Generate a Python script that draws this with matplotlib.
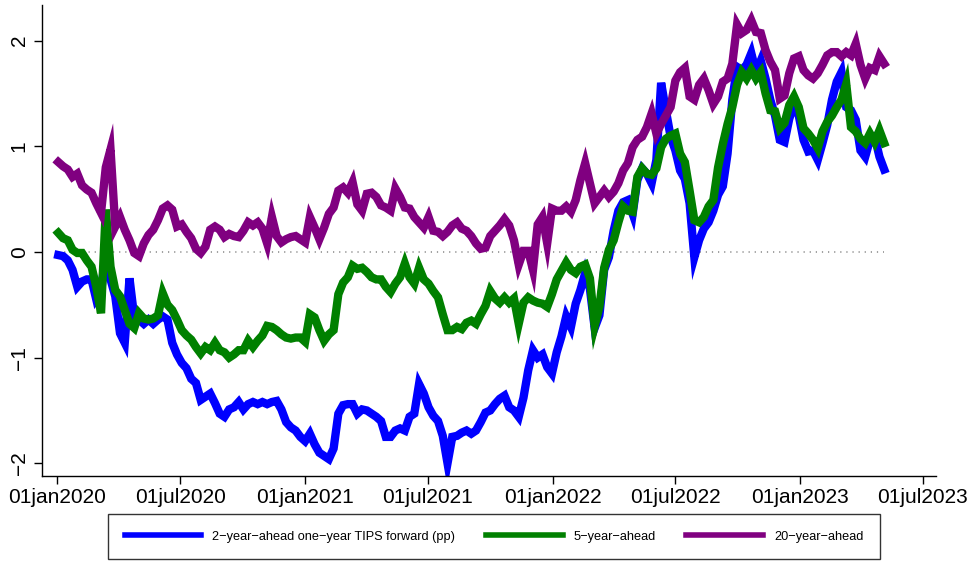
import matplotlib
matplotlib.use("Agg")
import matplotlib.pyplot as plt
import pandas as pd

plt.rcParams['font.family'] = ['Liberation Sans', 'DejaVu Sans']

# weekly observations (Fridays), Jan 2020 - May 2023
tanggal = pd.date_range('2020-01-03', periods=175, freq='7D')

# 2-year-ahead one-year TIPS forward (pp)
fwd2 = [-0.03, -0.04, -0.08, -0.17, -0.33, -0.28, -0.26, -0.26, -0.45, -0.39,
        0.02, -0.26, -0.42, -0.77, -0.86, -0.25, -0.62, -0.64, -0.68, -0.64,
        -0.68, -0.64, -0.61, -0.64, -0.86, -0.97, -1.05, -1.10, -1.20, -1.24,
        -1.40, -1.37, -1.34, -1.43, -1.53, -1.56, -1.49, -1.47, -1.42, -1.49,
        -1.44, -1.42, -1.44, -1.42, -1.44, -1.42, -1.41, -1.49, -1.61, -1.66,
        -1.69, -1.75, -1.79, -1.72, -1.82, -1.90, -1.93, -1.96, -1.86, -1.53,
        -1.45, -1.44, -1.44, -1.53, -1.49, -1.50, -1.53, -1.56, -1.60, -1.75,
        -1.75, -1.69, -1.67, -1.69, -1.56, -1.53, -1.25, -1.34, -1.47, -1.55,
        -1.60, -1.74, -2.00, -1.75, -1.74, -1.71, -1.69, -1.72, -1.69, -1.61,
        -1.52, -1.50, -1.44, -1.39, -1.36, -1.47, -1.50, -1.56, -1.38, -1.12,
        -0.93, -1.00, -0.97, -1.09, -1.15, -0.95, -0.80, -0.61, -0.71, -0.49,
        -0.36, -0.20, -0.35, -0.72, -0.60, -0.17, -0.05, 0.20, 0.39, 0.47,
        0.49, 0.36, 0.68, 0.79, 0.74, 0.65, 0.87, 1.60, 1.34, 1.09,
        0.96, 0.77, 0.69, 0.46, -0.05, 0.11, 0.22, 0.28, 0.39, 0.54,
        0.62, 0.93, 1.44, 1.75, 1.72, 1.77, 1.88, 1.70, 1.81, 1.64,
        1.44, 1.29, 1.06, 1.04, 1.26, 1.39, 1.29, 1.06, 0.95, 0.96,
        0.87, 1.03, 1.20, 1.44, 1.61, 1.70, 1.37, 1.34, 1.25, 0.96,
        0.90, 1.06, 1.09, 0.90, 0.78]

# 5-year-ahead
fwd5 = [0.18, 0.13, 0.11, 0.02, -0.01, -0.01, -0.08, -0.14, -0.33, -0.58,
        0.40, -0.14, -0.36, -0.42, -0.55, -0.68, -0.72, -0.58, -0.63, -0.64,
        -0.63, -0.60, -0.39, -0.50, -0.55, -0.64, -0.74, -0.79, -0.83, -0.90,
        -0.96, -0.90, -0.93, -0.86, -0.93, -0.95, -1.00, -0.97, -0.93, -0.93,
        -0.84, -0.90, -0.84, -0.79, -0.70, -0.71, -0.74, -0.78, -0.81, -0.82,
        -0.81, -0.81, -0.85, -0.59, -0.62, -0.74, -0.84, -0.78, -0.74, -0.40,
        -0.29, -0.24, -0.13, -0.16, -0.15, -0.19, -0.24, -0.26, -0.26, -0.33,
        -0.38, -0.30, -0.24, -0.11, -0.24, -0.30, -0.15, -0.26, -0.30, -0.37,
        -0.43, -0.59, -0.74, -0.74, -0.71, -0.73, -0.67, -0.65, -0.68, -0.59,
        -0.51, -0.37, -0.44, -0.48, -0.43, -0.48, -0.44, -0.68, -0.48, -0.43,
        -0.46, -0.48, -0.49, -0.52, -0.40, -0.26, -0.18, -0.10, -0.17, -0.20,
        -0.14, -0.12, -0.25, -0.70, -0.52, -0.15, 0.02, 0.11, 0.28, 0.43,
        0.39, 0.38, 0.71, 0.79, 0.74, 0.73, 0.79, 0.99, 1.07, 1.10,
        1.12, 0.93, 0.85, 0.58, 0.30, 0.28, 0.33, 0.43, 0.49, 0.80,
        1.02, 1.21, 1.37, 1.58, 1.70, 1.64, 1.72, 1.64, 1.70, 1.50,
        1.34, 1.33, 1.17, 1.22, 1.39, 1.47, 1.37, 1.17, 1.12, 1.06,
        0.98, 1.14, 1.23, 1.29, 1.37, 1.44, 1.59, 1.18, 1.14, 1.07,
        1.03, 1.12, 1.04, 1.15, 1.03]

# 20-year-ahead
fwd20 = [0.85, 0.81, 0.78, 0.71, 0.74, 0.63, 0.59, 0.56, 0.46, 0.37,
         0.80, 0.97, 0.24, 0.33, 0.21, 0.11, -0.01, -0.04, 0.08, 0.16,
         0.21, 0.30, 0.41, 0.44, 0.40, 0.24, 0.26, 0.19, 0.13, 0.03,
         -0.01, 0.05, 0.21, 0.24, 0.21, 0.14, 0.17, 0.15, 0.14, 0.20,
         0.28, 0.25, 0.28, 0.22, 0.08, 0.33, 0.15, 0.09, 0.12, 0.14,
         0.15, 0.12, 0.09, 0.33, 0.23, 0.12, 0.23, 0.36, 0.42, 0.58,
         0.61, 0.56, 0.66, 0.45, 0.39, 0.55, 0.56, 0.52, 0.44, 0.42,
         0.39, 0.60, 0.52, 0.42, 0.41, 0.33, 0.28, 0.23, 0.33, 0.20,
         0.19, 0.15, 0.19, 0.25, 0.28, 0.22, 0.20, 0.15, 0.08, 0.03,
         0.04, 0.15, 0.20, 0.25, 0.31, 0.25, 0.11, -0.12, 0.01, 0.01,
         -0.17, 0.26, 0.33, 0.08, 0.41, 0.39, 0.39, 0.43, 0.38, 0.49,
         0.68, 0.84, 0.65, 0.46, 0.52, 0.58, 0.52, 0.57, 0.65, 0.77,
         0.84, 0.99, 1.06, 1.09, 1.18, 1.31, 1.12, 1.21, 1.29, 1.37,
         1.62, 1.70, 1.74, 1.47, 1.44, 1.58, 1.64, 1.53, 1.40, 1.47,
         1.61, 1.64, 1.78, 2.15, 2.07, 2.10, 2.19, 2.08, 2.07, 1.91,
         1.80, 1.72, 1.45, 1.48, 1.69, 1.83, 1.85, 1.72, 1.67, 1.64,
         1.69, 1.77, 1.86, 1.89, 1.89, 1.85, 1.89, 1.86, 1.97, 1.77,
         1.64, 1.74, 1.72, 1.85, 1.78]

label = ["2\u2212year\u2212ahead one\u2212year TIPS forward (pp)",
         "5\u2212year\u2212ahead", "20\u2212year\u2212ahead"]
warna = ["#0000ff", "#008000", "#800080"]

tick_tgl = pd.to_datetime(['2020-01-01', '2020-07-01', '2021-01-01', '2021-07-01',
                           '2022-01-01', '2022-07-01', '2023-01-01', '2023-07-01'])
tick_lbl = ['01jan2020', '01jul2020', '01jan2021', '01jul2021',
            '01jan2022', '01jul2022', '01jan2023', '01jul2023']

fig = plt.figure(figsize=(9.73, 5.66), dpi=100)
ax = fig.add_axes([0.0432, 0.159, 0.9185, 0.832])

# garis nol titik-titik
ax.plot([tanggal[0], tanggal[-1]], [0, 0], color='#888888', linestyle=(0, (0.8, 3.2)),
        linewidth=1.1, zorder=1)

handles = []
for i, seri in enumerate([fwd2, fwd5, fwd20]):
    h, = ax.plot(tanggal, seri, color=warna[i], linewidth=6.0, solid_joinstyle='miter',
                 label=label[i], zorder=2 + i)
    handles.append(h)

ax.set_xlim(pd.Timestamp('2019-12-10'), pd.Timestamp('2023-07-20'))
ax.set_ylim(-2.12, 2.335)
ax.set_xticks(tick_tgl)
ax.set_xticklabels(tick_lbl)
ax.set_yticks([-2, -1, 0, 1, 2])
ax.set_yticklabels(['\u22122', '\u22121', '0', '1', '2'], rotation=90, va='center')

for s in ['top', 'right']:
    ax.spines[s].set_visible(False)
for s in ['left', 'bottom']:
    ax.spines[s].set_linewidth(1.0)
ax.tick_params(axis='both', direction='out', length=5.5, width=1.0, labelsize=15)
ax.tick_params(axis='y', pad=4)
ax.tick_params(axis='x', pad=3)

leg = fig.legend(handles=handles, loc='center', bbox_to_anchor=(0.5077, 0.052), ncol=3,
                 frameon=True, fancybox=False, edgecolor='black', fontsize=9.2,
                 handlelength=6.0, handletextpad=0.85, columnspacing=2.4,
                 borderpad=1.3, borderaxespad=0)
leg.get_frame().set_linewidth(1.0)
for ln in leg.get_lines():
    ln.set_linewidth(4)

fig.savefig('out.png', dpi=100)
